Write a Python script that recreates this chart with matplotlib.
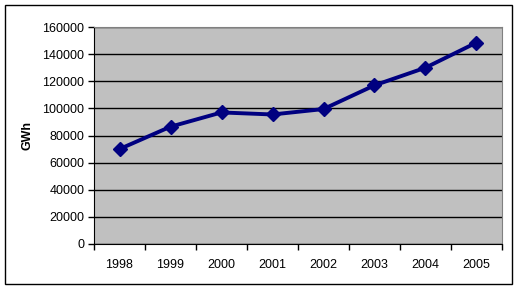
import matplotlib.pyplot as plt
from matplotlib.patches import Rectangle

years = ['1998', '1999', '2000', '2001', '2002', '2003', '2004', '2005']
gwh = [70000, 86500, 97000, 95500, 99500, 117000, 130000, 148500]
yticks = [0, 20000, 40000, 60000, 80000, 100000, 120000, 140000, 160000]

plt.rcParams['font.family'] = ['Liberation Sans', 'DejaVu Sans']

W, H = 517, 290
fig = plt.figure(figsize=(W / 100, H / 100), dpi=100)

# borde del gráfico
fig.patches.append(Rectangle((5 / W, 1 - 284 / H), 507 / W, 279 / H,
                             transform=fig.transFigure, fill=False,
                             edgecolor='black', linewidth=1))

ax = fig.add_axes([94 / W, 1 - 244 / H, 408 / W, 217 / H])
ax.set_facecolor('#c0c0c0')

x = [i + 0.5 for i in range(len(years))]
ax.plot(x, gwh, color='#000080', linewidth=2.8, marker='D', markersize=7)

ax.set_xlim(0, len(years))
ax.set_ylim(0, 160000)
ax.set_yticks(yticks)
ax.set_yticklabels([str(v) for v in yticks], fontsize=9)
ax.set_xticks(range(len(years) + 1))
ax.set_xticklabels([])
ax.set_xticks(x, minor=True)
ax.set_xticklabels(years, minor=True, fontsize=9)
ax.tick_params(axis='x', which='minor', length=0, pad=11)
ax.tick_params(axis='x', which='major', length=4, width=1, direction='out')
ax.tick_params(axis='y', length=4, width=1, direction='out', pad=3)

ax.grid(axis='y', color='black', linewidth=1)
ax.set_axisbelow(True)

for s in ['top', 'right']:
    ax.spines[s].set_color('#808080')
for s in ['left', 'bottom']:
    ax.spines[s].set_color('black')

ax.set_ylabel('GWh', fontsize=9, fontweight='bold', labelpad=6)

fig.savefig('out.png', dpi=100)
